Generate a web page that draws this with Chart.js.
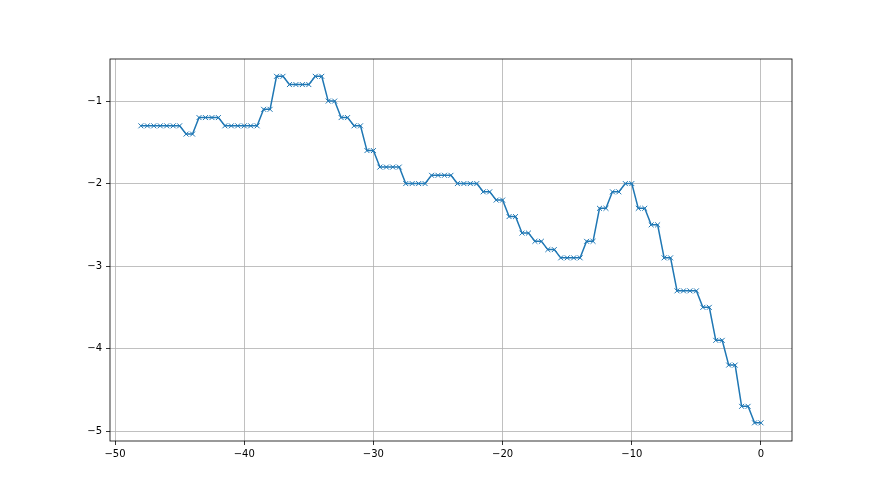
<!DOCTYPE html>
<html>
<head>
<meta charset="utf-8">
<script src="https://cdn.jsdelivr.net/npm/chart.js@4.4.0/dist/chart.umd.min.js"></script>
<style>
    body { margin: 0; background: #fff; }
    #chart { display: block; }
</style>
</head>
<body>
<canvas id="chart" width="880" height="495"></canvas>
<script>
// x positions, every half unit from -48 to 0
const xValues = [
    -48, -47.5, -47, -46.5, -46, -45.5, -45, -44.5, -44, -43.5, -43, -42.5, -42,
    -41.5, -41, -40.5, -40, -39.5, -39, -38.5, -38, -37.5, -37, -36.5, -36,
    -35.5, -35, -34.5, -34, -33.5, -33, -32.5, -32, -31.5, -31, -30.5, -30,
    -29.5, -29, -28.5, -28, -27.5, -27, -26.5, -26, -25.5, -25, -24.5, -24,
    -23.5, -23, -22.5, -22, -21.5, -21, -20.5, -20, -19.5, -19, -18.5, -18,
    -17.5, -17, -16.5, -16, -15.5, -15, -14.5, -14, -13.5, -13, -12.5, -12,
    -11.5, -11, -10.5, -10, -9.5, -9, -8.5, -8, -7.5, -7, -6.5, -6,
    -5.5, -5, -4.5, -4, -3.5, -3, -2.5, -2, -1.5, -1, -0.5, 0
];

const yValues = [
    -1.3, -1.3, -1.3, -1.3, -1.3, -1.3, -1.3, -1.4, -1.4, -1.2, -1.2, -1.2, -1.2,
    -1.3, -1.3, -1.3, -1.3, -1.3, -1.3, -1.1, -1.1, -0.7, -0.7, -0.8, -0.8,
    -0.8, -0.8, -0.7, -0.7, -1.0, -1.0, -1.2, -1.2, -1.3, -1.3, -1.6, -1.6,
    -1.8, -1.8, -1.8, -1.8, -2.0, -2.0, -2.0, -2.0, -1.9, -1.9, -1.9, -1.9,
    -2.0, -2.0, -2.0, -2.0, -2.1, -2.1, -2.2, -2.2, -2.4, -2.4, -2.6, -2.6,
    -2.7, -2.7, -2.8, -2.8, -2.9, -2.9, -2.9, -2.9, -2.7, -2.7, -2.3, -2.3,
    -2.1, -2.1, -2.0, -2.0, -2.3, -2.3, -2.5, -2.5, -2.9, -2.9, -3.3, -3.3,
    -3.3, -3.3, -3.5, -3.5, -3.9, -3.9, -4.2, -4.2, -4.7, -4.7, -4.9, -4.9
];

const xTicks = [-50, -40, -30, -20, -10, 0];
const yTicks = [-5, -4, -3, -2, -1];

const points = xValues.map((x, i) => ({ x: x, y: yValues[i] }));

function minusSign(v) {
    return String(v).replace('-', '\u2212');
}

// draw the full box around the plot area like matplotlib
const frame = {
    id: 'frame',
    afterDraw(chart) {
        const a = chart.chartArea;
        const ctx = chart.ctx;
        ctx.save();
        ctx.strokeStyle = '#000';
        ctx.lineWidth = 0.8;
        ctx.strokeRect(a.left, a.top, a.right - a.left, a.bottom - a.top);
        ctx.restore();
    }
};

new Chart(document.getElementById('chart'), {
    type: 'line',
    data: {
        datasets: [{
            data: points,
            borderColor: '#1f77b4',
            backgroundColor: '#1f77b4',
            borderWidth: 1.5,
            pointStyle: 'crossRot',
            pointRadius: 3.5,
            pointBorderWidth: 1,
            pointBorderColor: '#1f77b4',
            tension: 0
        }]
    },
    options: {
        responsive: false,
        animation: false,
        layout: { padding: { left: 0, top: 59, right: 88, bottom: 0 } },
        plugins: {
            legend: { display: false },
            tooltip: { enabled: false }
        },
        scales: {
            x: {
                type: 'linear',
                min: -50.39,
                max: 2.4,
                afterBuildTicks: function(scale) {
                    scale.ticks = xTicks.map(v => ({ value: v }));
                },
                afterFit: function(scale) { scale.height = 54; },
                grid: { color: '#b0b0b0', lineWidth: 0.8, tickColor: '#000', tickLength: 4 },
                border: { display: false },
                ticks: {
                    color: '#000',
                    font: { family: 'DejaVu Sans', size: 10 },
                    padding: 3,
                    maxRotation: 0,
                    callback: v => minusSign(v)
                }
            },
            y: {
                type: 'linear',
                min: -5.12,
                max: -0.49,
                afterBuildTicks: function(scale) {
                    scale.ticks = yTicks.map(v => ({ value: v }));
                },
                afterFit: function(scale) { scale.width = 110; },
                grid: { color: '#b0b0b0', lineWidth: 0.8, tickColor: '#000', tickLength: 4 },
                border: { display: false },
                ticks: {
                    color: '#000',
                    font: { family: 'DejaVu Sans', size: 10 },
                    padding: 4,
                    callback: v => minusSign(v)
                }
            }
        }
    },
    plugins: [frame]
});
</script>
</body>
</html>
